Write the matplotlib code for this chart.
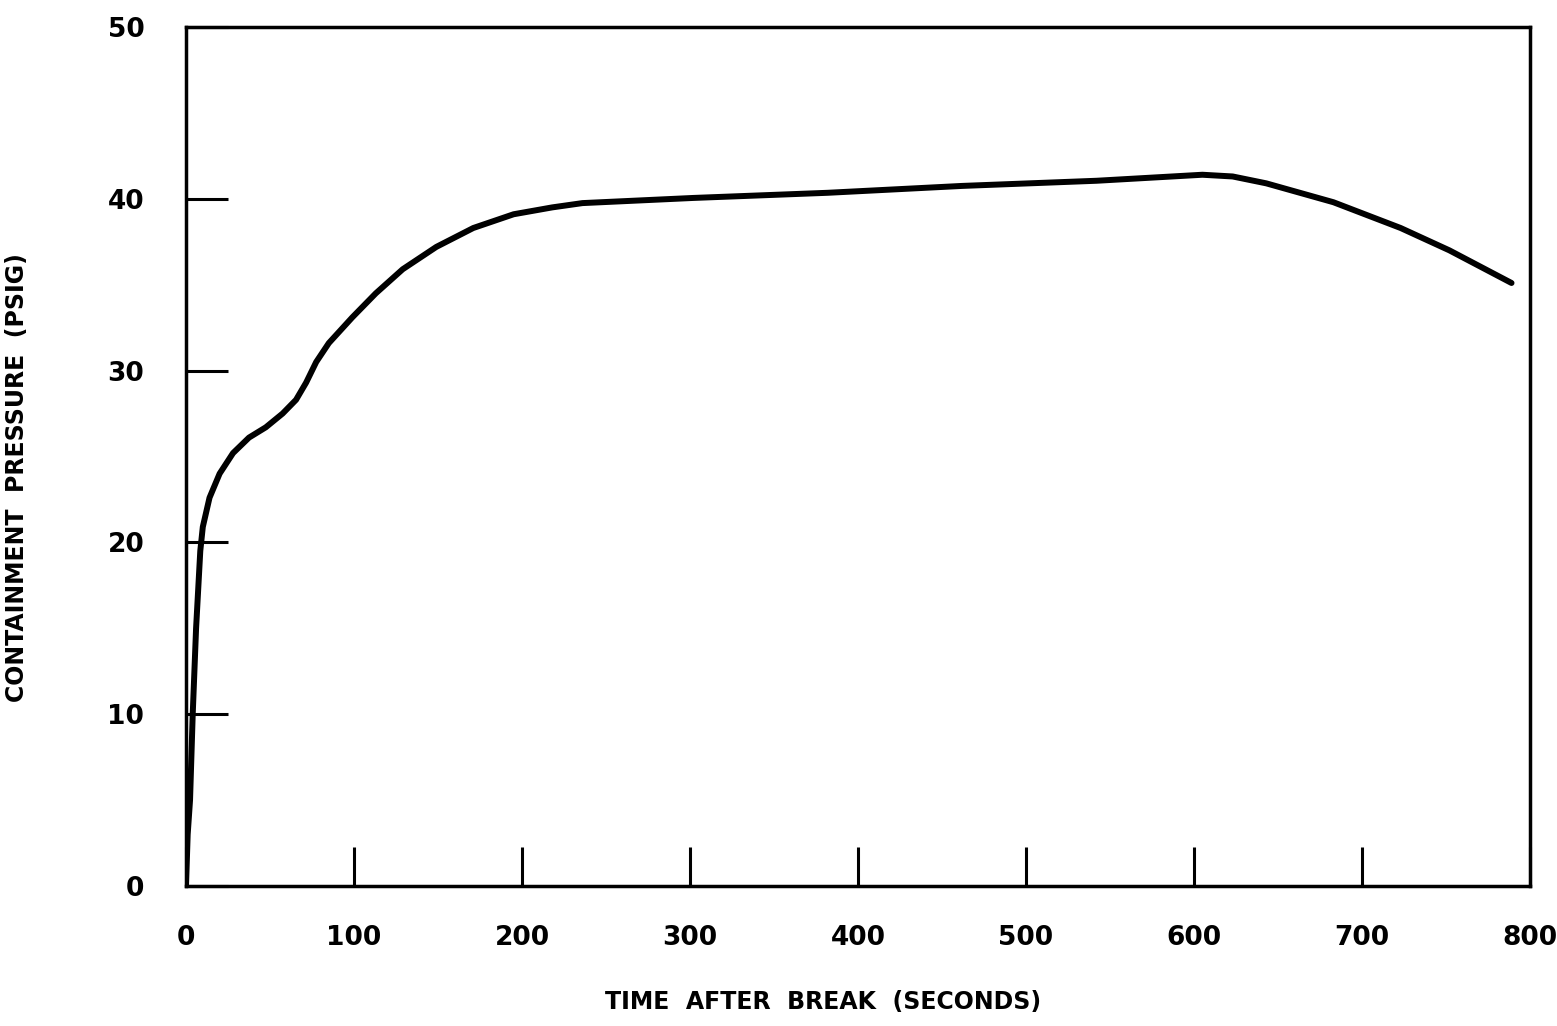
import matplotlib
matplotlib.use("Agg")
import matplotlib.pyplot as plt

# values
time_s = [0, 1, 2.4, 4, 6, 8.5, 10, 14, 20, 28, 37.5, 47.5, 57.5, 65.5,
          71.5, 77.5, 85, 99, 113, 129, 149, 171, 195, 218, 236, 302, 382,
          462, 542, 605, 623, 643, 683, 723, 752, 789]
pressure = [0, 3, 5, 10, 15, 19.5, 20.9, 22.6, 24.0, 25.2, 26.1, 26.7, 27.5,
            28.3, 29.3, 30.5, 31.6, 33.1, 34.5, 35.9, 37.2, 38.3, 39.1, 39.5,
            39.75, 40.05, 40.35, 40.75, 41.05, 41.4, 41.3, 40.9, 39.8, 38.3,
            37.0, 35.1]

x_ticks = [0, 100, 200, 300, 400, 500, 600, 700, 800]
y_ticks = [0, 10, 20, 30, 40, 50]

plt.rcParams['font.family'] = ['DejaVu Sans']
plt.rcParams['font.weight'] = 'bold'
plt.rcParams['axes.labelweight'] = 'bold'

fig = plt.figure(figsize=(15.57, 10.26), dpi=100)
ax = fig.add_axes([186 / 1557, 1 - 886 / 1026, (1530 - 186) / 1557, (886 - 27) / 1026])

ax.plot(time_s, pressure, color="black", linewidth=4.3,
        solid_capstyle="round", solid_joinstyle="round")

ax.set_xlim(0, 800)
ax.set_ylim(0, 50)
ax.set_xticks(x_ticks)
ax.set_yticks(y_ticks)
ax.set_xticklabels([str(v) for v in x_ticks])
ax.set_yticklabels([str(v) for v in y_ticks])

for s in ax.spines.values():
    s.set_linewidth(2.5)

ax.tick_params(axis="x", direction="in", length=28, width=2.2, pad=28, labelsize=19)
ax.tick_params(axis="y", direction="in", length=30, width=2.2, pad=30, labelsize=19)

ax.set_xlabel("TIME  AFTER  BREAK  (SECONDS)", fontsize=17)
ax.set_ylabel("CONTAINMENT  PRESSURE  (PSIG)", fontsize=17)
ax.xaxis.set_label_coords((823 - 186) / 1344, (886 - 1002) / 859)
ax.yaxis.set_label_coords((17 - 186) / 1344, (886 - 478) / 859)
ax.xaxis.label.set_va("center")
ax.yaxis.label.set_va("center")

fig.savefig("out.png", dpi=100)
